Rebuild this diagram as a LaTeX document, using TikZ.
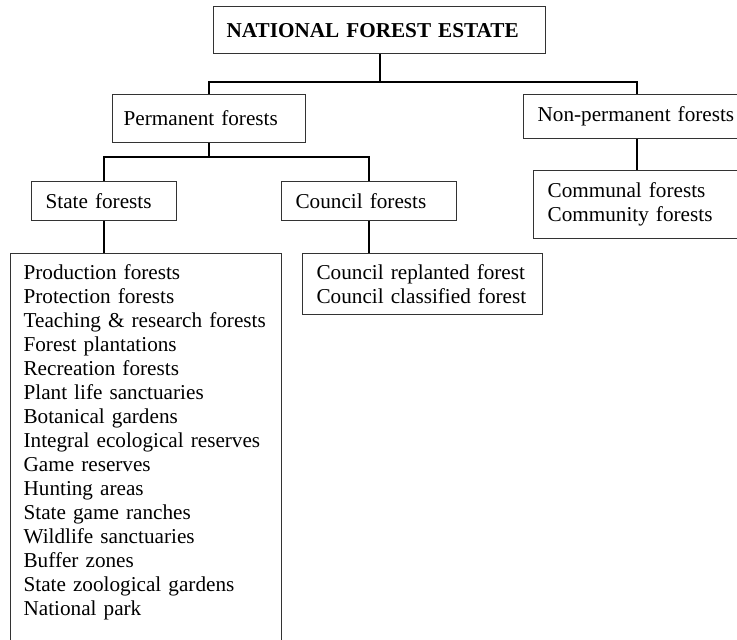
\documentclass[tikz,border=0pt]{standalone}
\usepackage{fontspec}
\setmainfont{Liberation Serif}
\usetikzlibrary{positioning}

\begin{document}
\begin{tikzpicture}[x=0.5pt, y=-0.5pt,
    box/.style={rectangle, draw=black!80, line width=0.6pt, anchor=north west, align=left,
        inner xsep=7pt, inner ysep=5.5pt, font=\fontsize{10.6}{12}\selectfont},
    link/.style={line width=1pt}]
    \useasboundingbox (0,0) rectangle (737,640);
    \clip (0,0) rectangle (737,640);

    \node[box, text width=153pt, inner xsep=6.5pt, minimum height=23.5pt, font=\fontsize{10.6}{12}\selectfont\bfseries] (nfe) at (213,6) {NATIONAL FOREST ESTATE};

    \node[box, text width=85.5pt, inner xsep=5.5pt, minimum height=24pt] (perm) at (112,94) {Permanent forests};
    \node[box, text width=99pt, minimum height=22pt] (nonperm) at (523,94) {Non-permanent forests};

    \node[box, text width=58.5pt, minimum height=19.5pt] (state) at (31,181) {State forests};
    \node[box, text width=73.5pt, minimum height=19.5pt] (council) at (281,181) {Council forests};

    \node[box, text width=122.5pt, inner xsep=6.5pt] (statelist) at (10,253) {Production forests\\
        Protection forests\\
        Teaching \& research forests\\
        Forest plantations\\
        Recreation forests\\
        Plant life sanctuaries\\
        Botanical gardens\\
        Integral ecological reserves\\
        Game reserves\\
        Hunting areas\\
        State game ranches\\
        Wildlife sanctuaries\\
        Buffer zones\\
        State zoological gardens\\
        National park\\[6pt]\mbox{}};
    \node[box, text width=106pt, minimum height=30pt] (councillist) at (302,253) {Council replanted forest\\Council classified forest};
    \node[box, text width=94.5pt, minimum height=34pt] (communal) at (533,170) {Communal forests\\Community forests};

    % tree links
    \coordinate (split1) at (nfe.south |- 0,82);
    \draw[link] (nfe.south) -- (split1);
    \draw[link] (perm.north) |- (split1) -| (nonperm.north);
    \draw[link] (nonperm.south) -- (nonperm.south |- communal.north);

    \coordinate (split2) at (perm.south |- 0,157);
    \draw[link] (perm.south) -- (split2);
    \draw[link] (state.north) |- (split2) -| (council.north);
    \draw[link] (state.south) -- (state.south |- statelist.north);
    \draw[link] (council.south) -- (council.south |- councillist.north);
\end{tikzpicture}
\end{document}
